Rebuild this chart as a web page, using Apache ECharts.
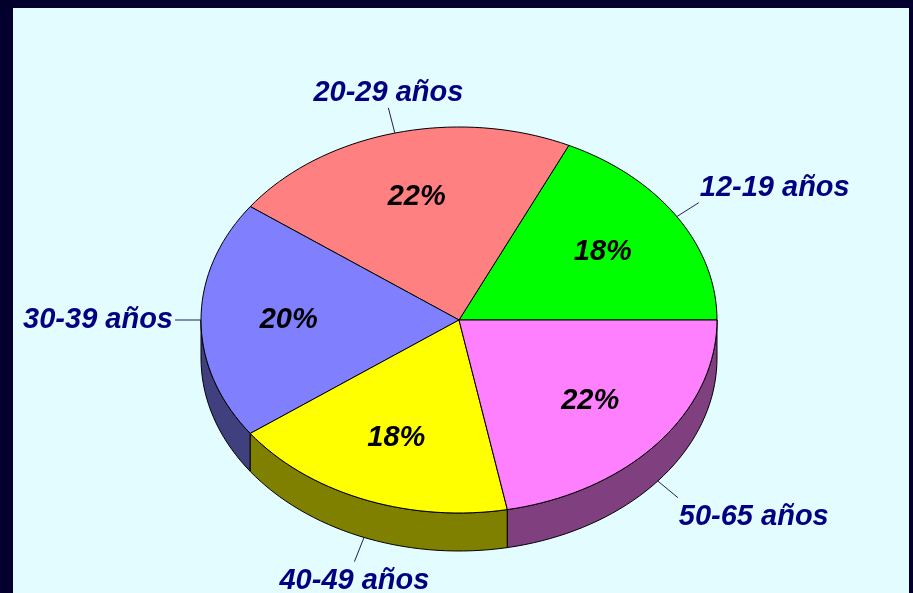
<!DOCTYPE html>
<html>
<head>
<meta charset="utf-8">
<script src="https://cdn.jsdelivr.net/npm/echarts@6/dist/echarts.min.js"></script>
<style>
  html, body { margin: 0; padding: 0; background: #03002e; }
  #pieChart { width: 913px; height: 593px; }
</style>
</head>
<body>
<div id="pieChart"></div>
<script>
const categories = ['12-19 años', '20-29 años', '30-39 años', '40-49 años', '50-65 años']
const percentValues = [18, 22, 20, 18, 22]

const topColors = ['#00ff00', '#ff8080', '#8080ff', '#ffff00', '#ff80ff']
const sideColors = ['#008000', '#804040', '#40407f', '#808000', '#804080']

// ellipse geometry of the tilted pie
const cx = 459
const cy = 320
const rx = 258
const ry = 193
const depth = 38
const fontFamily = '"Liberation Sans", Arial, sans-serif'

const total = percentValues.reduce((a, b) => a + b, 0)
const startValues = []
percentValues.reduce((acc, v) => { startValues.push(acc); return acc + v }, 0)

function toAngle (v) {
  return v / total * 360
}

function arcPoints (a0, a1, dy) {
  const pts = []
  const steps = Math.max(2, Math.ceil((a1 - a0) / 2))
  for (let i = 0; i <= steps; i++) {
    const t = (a0 + (a1 - a0) * i / steps) * Math.PI / 180
    pts.push([cx + rx * Math.cos(t), cy - ry * Math.sin(t) + dy])
  }
  return pts
}

function renderSide (params, api) {
  const a0 = toAngle(api.value(1))
  const a1 = toAngle(api.value(1) + api.value(0))
  const idx = api.value(2)
  const s = Math.max(a0, 180)
  const e = Math.min(a1, 360)
  if (e <= s) {
    return { type: 'group', children: [] }
  }
  const pts = arcPoints(s, e, 0).concat(arcPoints(s, e, depth).reverse())
  return {
    type: 'polygon',
    shape: { points: pts },
    style: { fill: sideColors[idx], stroke: '#000', lineWidth: 1 }
  }
}

function renderTop (params, api) {
  const v = api.value(0)
  const a0 = toAngle(api.value(1))
  const a1 = toAngle(api.value(1) + v)
  const idx = api.value(2)
  const mid = (a0 + a1) / 2 * Math.PI / 180
  const c = Math.cos(mid)
  const s = Math.sin(mid)
  const pts = [[cx, cy]].concat(arcPoints(a0, a1, 0))

  // leader line from the visible rim outward
  const ex = cx + rx * c
  const ey = cy - ry * s + (s < 0 ? depth : 0)
  const lx = ex + 26 * c
  const ly = ey - 26 * s
  let align = 'center'
  if (c > 0.45) align = 'left'
  if (c < -0.45) align = 'right'
  let vAlign = 'middle'
  if (s > 0.3) vAlign = 'bottom'
  if (s < -0.3) vAlign = 'top'
  const tx = lx + (align === 'left' ? 1 : align === 'right' ? -2 : 0)
  const ty = ly + (vAlign === 'top' ? 5 : 0)

  return {
    type: 'group',
    children: [{
      type: 'polygon',
      shape: { points: pts },
      style: { fill: topColors[idx], stroke: '#000', lineWidth: 1 }
    }, {
      type: 'line',
      shape: { x1: ex, y1: ey, x2: lx, y2: ly },
      style: { stroke: '#202050', lineWidth: 1 }
    }, {
      type: 'text',
      z2: 10,
      style: {
        text: v + '%',
        x: cx + rx * 0.66 * c,
        y: cy - ry * 0.66 * s,
        align: 'center',
        verticalAlign: 'middle',
        fill: '#000',
        fontSize: 29,
        fontWeight: 'bold',
        fontStyle: 'italic',
        fontFamily: fontFamily
      }
    }, {
      type: 'text',
      z2: 10,
      style: {
        text: categories[idx],
        x: tx,
        y: ty,
        align: align,
        verticalAlign: vAlign,
        fill: '#000080',
        fontSize: 29,
        fontWeight: 'bold',
        fontStyle: 'italic',
        fontFamily: fontFamily
      }
    }]
  }
}

const chart = echarts.init(document.getElementById('pieChart'))
const seriesData = percentValues.map((v, i) => ({
  name: categories[i],
  value: [v, startValues[i], i]
}))

chart.setOption({
  backgroundColor: '#03002e',
  animation: false,
  graphic: [{
    type: 'rect',
    z: -10,
    shape: { x: 13, y: 8, width: 896, height: 600 },
    style: { fill: '#e3fcff' }
  }],
  series: [{
    type: 'custom',
    coordinateSystem: 'none',
    z: 1,
    renderItem: renderSide,
    data: seriesData
  }, {
    type: 'custom',
    coordinateSystem: 'none',
    z: 2,
    renderItem: renderTop,
    data: seriesData
  }]
})
</script>
</body>
</html>
